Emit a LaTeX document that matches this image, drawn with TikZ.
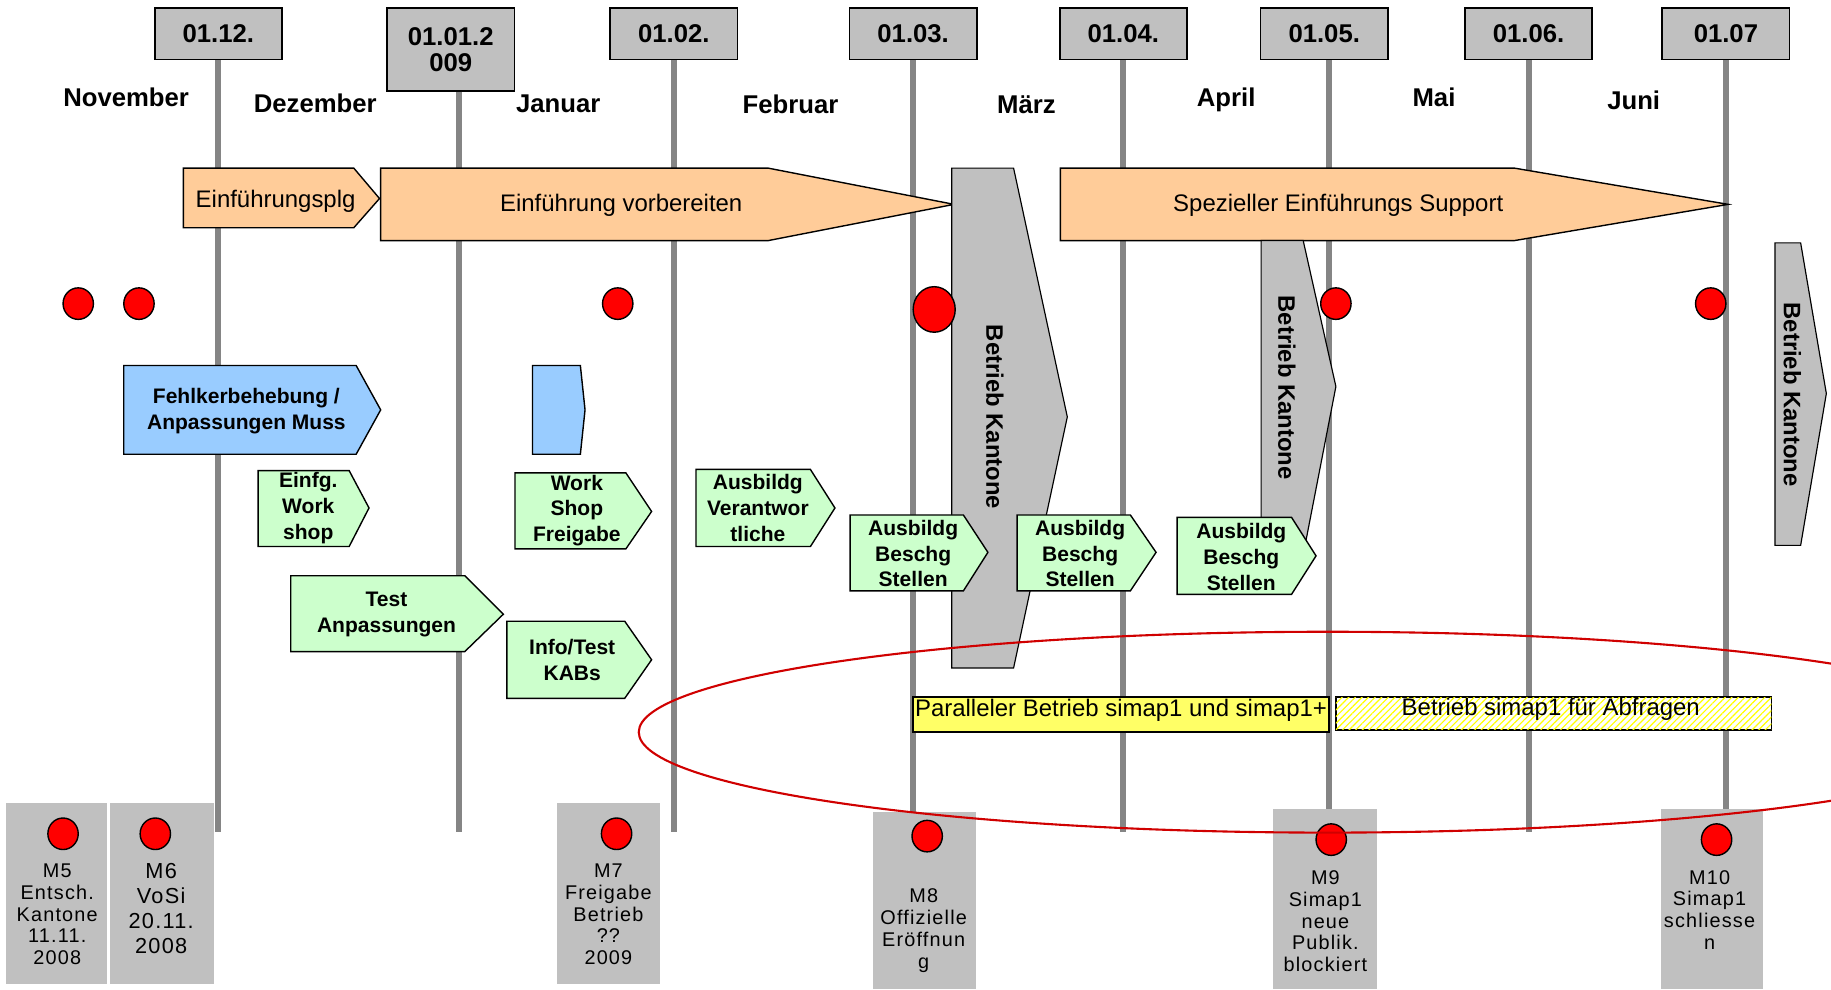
\documentclass[tikz,border=0pt]{standalone}
\usepackage{fontspec}
\setmainfont{Liberation Sans}
\newfontfamily\msfont[LetterSpace=6]{Liberation Sans}
\usetikzlibrary{shapes.geometric,patterns.meta}

\definecolor{boxgray}{HTML}{C0C0C0}
\definecolor{linegray}{HTML}{858585}
\definecolor{peach}{HTML}{FFCC99}
\definecolor{skyblue}{HTML}{99CCFF}
\definecolor{mint}{HTML}{CCFFCC}
\definecolor{lemon}{HTML}{FFFF66}
\definecolor{ringred}{HTML}{D00000}

\begin{document}
\begin{tikzpicture}[x=0.5pt,y=-0.5pt,
  datebox/.style={draw,fill=boxgray,line width=0.7pt,minimum width=54.5pt,minimum height=22pt,inner sep=1pt,align=center,font=\fontsize{11}{11}\selectfont\bfseries},
  month/.style={anchor=base,font=\fontsize{11}{13}\selectfont\bfseries},
  vline/.style={linegray,line width=2.6pt},
  phase/.style={draw,line width=0.6pt},
  phasetxt/.style={font=\fontsize{10.25}{12}\selectfont},
  tasktxt/.style={align=center,inner sep=0pt,font=\fontsize{9}{11}\selectfont\bfseries},
  opstxt/.style={rotate=-90,font=\fontsize{10.2}{12}\selectfont\bfseries},
  dot/.style={ellipse,draw,fill=red,line width=0.6pt,minimum width=13pt,minimum height=13.5pt,inner sep=0pt},
  mstxt/.style={align=center,inner sep=0pt,font=\msfont\fontsize{8.5}{9.3}\selectfont}]
\useasboundingbox (0,0) rectangle (1568,847);

% Date boxes and month lines
\node[datebox] (d1) at (187,29) {01.12.};
\node[datebox,minimum height=35.5pt] (d2) at (386,42.5) {01.01.2\\009};
\node[datebox] (d3) at (577,29) {01.02.};
\node[datebox] (d4) at (782,29) {01.03.};
\node[datebox] (d5) at (962,29) {01.04.};
\node[datebox] (d6) at (1134,29) {01.05.};
\node[datebox] (d7) at (1309,29) {01.06.};
\node[datebox] (d8) at (1478,29) {01.07};
\draw[vline] (d1.south) -- ++(0,661);
\draw[vline] ([xshift=3.5pt]d2.south) -- ++(0,634);
\draw[vline] (d3.south) -- ++(0,661);
\draw[vline] (d4.south) -- ++(0,661);
\draw[vline] (d5.south) -- ++(0,661);
\draw[vline] ([xshift=2pt]d6.south) -- ++(0,661);
\draw[vline] (d7.south) -- ++(0,661);
\draw[vline] (d8.south) -- ++(0,661);

% Months
\node[month] (nov) at (108,91) {November};
\node[month] (dez) at (270,96.5) {Dezember};
\node[month] (jan) at (478,96.5) {Januar};
\node[month] (feb) at (677,97) {Februar};
\node[month] (mar) at (879,97) {März};
\node[month] (apr) at (1050,91) {April};
\node[month] (mai) at (1228,91) {Mai};
\node[month] (jun) at (1399,94) {Juni};

% Phases
\draw[phase,fill=peach] (157,144) -- (303,144) -- (325,170) -- (303,195) -- (157,195) -- cycle;
\node[phasetxt] (plg) at (236,172) {Einführungsplg};
\draw[phase,fill=peach] (326,144) -- (658,144) -- (817,175) -- (658,206) -- (326,206) -- cycle;
\node[phasetxt] (vorb) at (532,176) {Einführung vorbereiten};
\draw[phase,fill=peach] (908,144) -- (1297,144) -- (1480,175) -- (1297,206) -- (908,206) -- cycle;
\node[phasetxt] (supp) at (1146,176) {Spezieller Einführungs Support};

% Betrieb Kantone
\draw[phase,fill=boxgray,line width=0.5pt] (815,144) -- (868,144) -- (914,357) -- (868,572) -- (815,572) -- cycle;
\node[opstxt] (ops1) at (852,357) {Betrieb Kantone};
\draw[phase,fill=boxgray,line width=0.5pt] (1080,206) -- (1116,206) -- (1144,331) -- (1117,470) -- (1080,470) -- cycle;
\node[opstxt] (ops2) at (1102,332) {Betrieb Kantone};
\draw[phase,fill=boxgray,line width=0.5pt] (1520,208) -- (1542,208) -- (1564,337) -- (1542,467) -- (1520,467) -- cycle;
\node[opstxt] (ops3) at (1535,338) {Betrieb Kantone};

% Milestone dots
\node[dot] (p1) at (67,260) {};
\node[dot] (p2) at (119,260) {};
\node[dot] (p3) at (529,260) {};
\node[dot,minimum width=18pt,minimum height=19.5pt] (p4) at (800,265) {};
\node[dot] (p5) at (1144,260) {};
\node[dot] (p6) at (1465,260) {};

% Tasks
\draw[phase,fill=skyblue] (106,313) -- (305,313) -- (326,351) -- (305,389) -- (106,389) -- cycle;
\node[tasktxt,font=\fontsize{9}{11.5}\selectfont\bfseries] (fix) at (211,352) {Fehlkerbehebung /\\Anpassungen Muss};
\draw[phase,fill=skyblue] (456,313) -- (497,313) -- (501,351) -- (497,389) -- (456,389) -- cycle;
\draw[phase,fill=mint] (221,403) -- (299,403) -- (316,435) -- (299,468) -- (221,468) -- cycle;
\node[tasktxt] (ws) at (264,435) {Einfg.\\Work\\shop};
\draw[phase,fill=mint] (441,405) -- (536,405) -- (558,438) -- (536,470) -- (441,470) -- cycle;
\node[tasktxt] (wsf) at (494,437) {Work\\Shop\\Freigabe};
\draw[phase,fill=mint] (596,402) -- (694,402) -- (715,435) -- (694,468) -- (596,468) -- cycle;
\node[tasktxt] (av) at (649,435) {Ausbildg\\Verantwor\\tliche};
\draw[phase,fill=mint] (249,493) -- (398,493) -- (431,526) -- (398,558) -- (249,558) -- cycle;
\node[tasktxt] (test) at (331,526) {Test\\Anpassungen};
\draw[phase,fill=mint] (434,532) -- (535,532) -- (558,565) -- (535,598) -- (434,598) -- cycle;
\node[tasktxt] (kab) at (490,565) {Info/Test\\KABs};
\draw[phase,fill=mint] (728,441) -- (825,441) -- (846,473) -- (825,506) -- (728,506) -- cycle;
\node[tasktxt] (abs1) at (782,474) {Ausbildg\\Beschg\\Stellen};
\draw[phase,fill=mint] (871,441) -- (968,441) -- (990,473) -- (968,506) -- (871,506) -- cycle;
\node[tasktxt] (abs2) at (925,474) {Ausbildg\\Beschg\\Stellen};
\draw[phase,fill=mint] (1008,443) -- (1106,443) -- (1127,476) -- (1106,509) -- (1008,509) -- cycle;
\node[tasktxt] (abs3) at (1063,477) {Ausbildg\\Beschg\\Stellen};

% Parallel operation
\draw[line width=0.7pt,fill=lemon] (782,597) rectangle (1138,627);
\node[phasetxt] (par) at (960,608) {Paralleler Betrieb simap1 und simap1+};
\draw[line width=0.7pt,fill=white,postaction={pattern={Lines[angle=45,distance=2pt,line width=0.5pt]},pattern color=yellow}] (1144,597) rectangle (1517,625);
\node[phasetxt] (abfr) at (1328,607) {Betrieb simap1 für Abfragen};

% Milestones
\fill[boxgray] (5,688) rectangle (92,843);
\fill[boxgray] (94,688) rectangle (183,843);
\fill[boxgray] (477,688) rectangle (565,843);
\fill[boxgray] (748,695) rectangle (836,847);
\fill[boxgray] (1090,693) rectangle (1179,847);
\fill[boxgray] (1422,693) rectangle (1510,847);
\node[dot] (m5) at (54,714) {};
\node[dot] (m6) at (133,714) {};
\node[dot] (m7) at (528,714) {};
\node[dot] (m8) at (794,716) {};
\node[dot] (m9) at (1140,719) {};
\node[dot] (m10) at (1470,719) {};
\node[mstxt] (t5) at (49,783) {M5\\Entsch.\\Kantone\\11.11.\\2008};
\node[mstxt,font=\msfont\fontsize{9.3}{10.8}\selectfont] (t6) at (138,778) {M6\\VoSi\\20.11.\\2008};
\node[mstxt] (t7) at (521,783) {M7\\Freigabe\\Betrieb\\??\\2009};
\node[mstxt] (t8) at (791,797) {M8\\Offizielle\\Eröffnun\\g};
\node[mstxt] (t9) at (1135,789) {M9\\Simap1\\neue\\Publik.\\blockiert};
\node[mstxt] (t10) at (1464,779) {M10\\Simap1\\schliesse\\n};

% Ring
\begin{scope}
\clip (0,0) rectangle (1568,847);
\draw[ringred,line width=0.9pt] (1137,627) ellipse [x radius=295pt, y radius=43pt];
\end{scope}
\end{tikzpicture}
\end{document}
